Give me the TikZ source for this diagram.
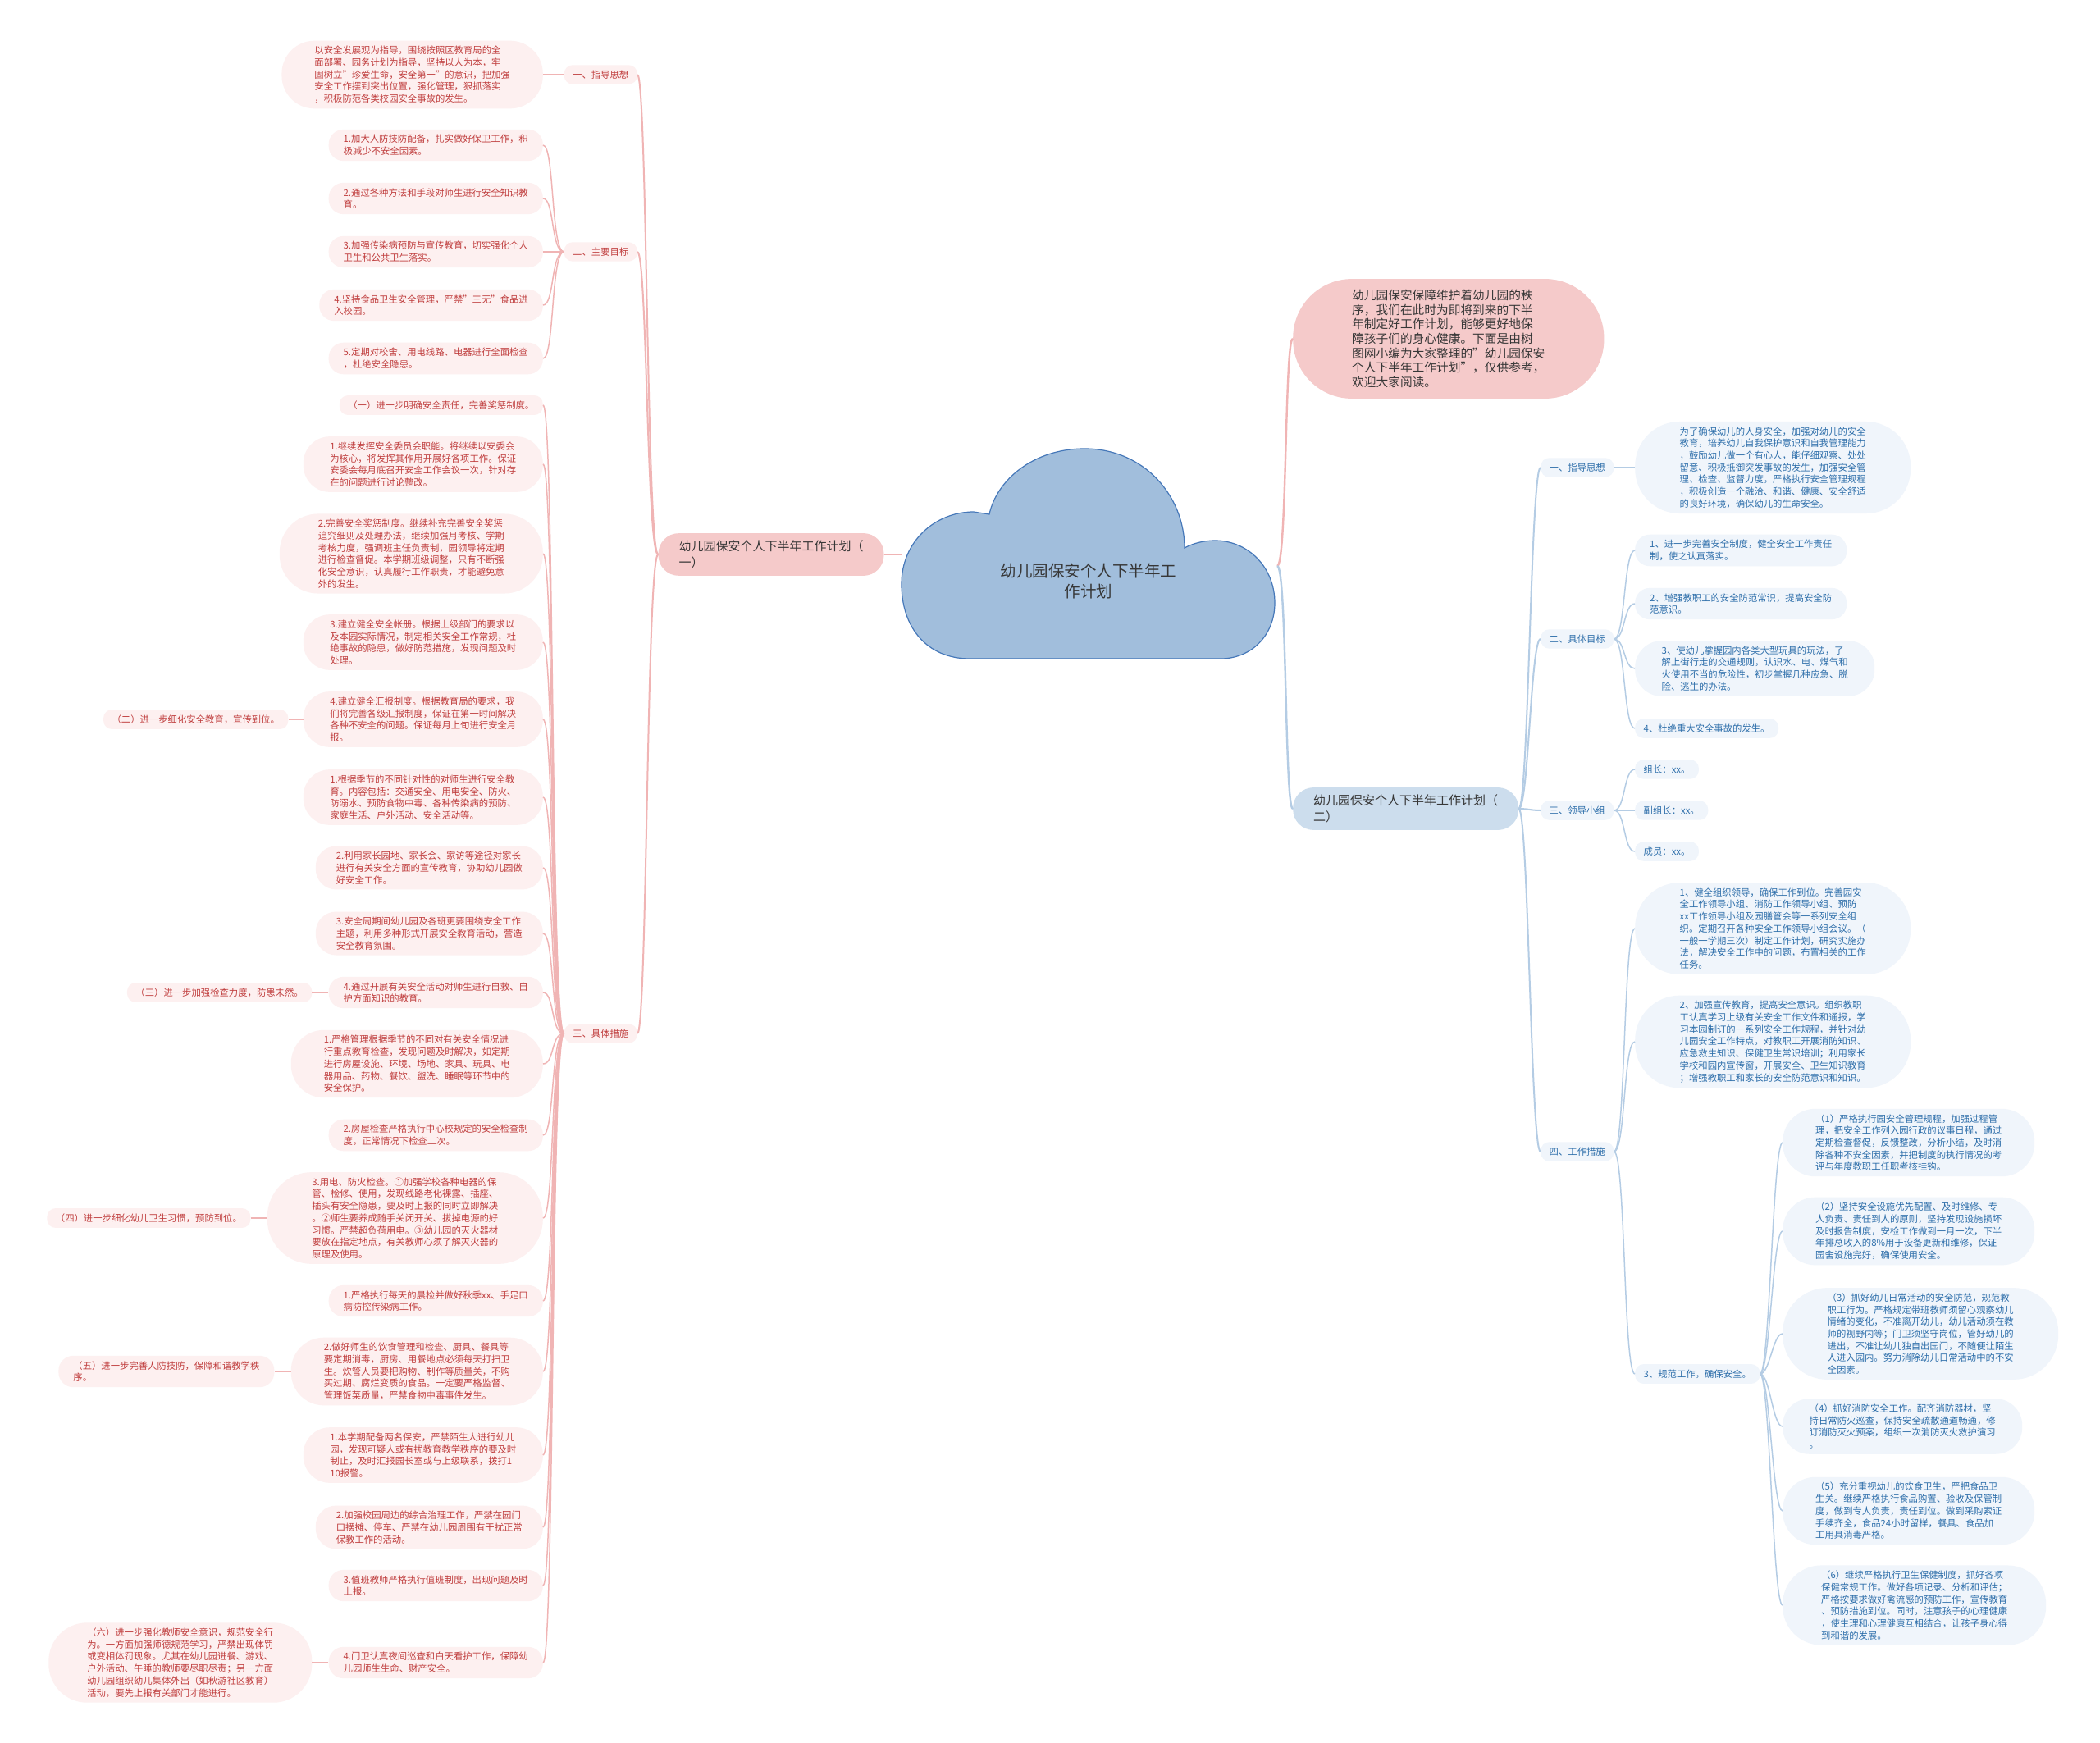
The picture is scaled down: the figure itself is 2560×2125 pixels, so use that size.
\documentclass[tikz,border=0pt]{standalone}
\usepackage{fontspec}
\setmainfont{Noto Sans CJK SC}
\usetikzlibrary{positioning}

\definecolor{rosefond}{RGB}{253,240,240}
\definecolor{bleufond}{RGB}{240,245,251}
\definecolor{rosemain}{RGB}{245,202,202}
\definecolor{bleumain}{RGB}{204,221,237}
\definecolor{roselien}{RGB}{240,180,180}
\definecolor{bleulien}{RGB}{180,204,228}
\definecolor{rougetexte}{RGB}{192,62,62}
\definecolor{bleutexte}{RGB}{45,110,170}
\definecolor{gristexte}{RGB}{55,55,55}
\definecolor{nuage}{RGB}{161,190,220}
\definecolor{nuagebord}{RGB}{70,120,185}

\begin{document}
\begin{tikzpicture}[x=1pt,y=-1pt,
    arrondi/.style={inner xsep=#1, rounded corners=#1},
    feuilleG/.style={rectangle, fill=rosefond, text=rougetexte,
        font=\fontsize{11.35}{14.7}\selectfont, align=left,
        inner ysep=6.5pt, anchor=east, arrondi=#1},
    feuilleG/.default=10.5pt,
    feuilleD/.style={feuilleG=#1, fill=bleufond, text=bleutexte, anchor=west},
    feuilleD/.default=10.5pt,
    branche/.style={rectangle, text=gristexte,
        font=\fontsize{15}{19.5}\selectfont, align=left,
        inner ysep=9pt, arrondi=25pt},
    lienG/.style={draw=roselien, line width=1.5pt},
    lienD/.style={draw=bleulien, line width=1.5pt},
    lienM/.style={line width=2.4pt}]
    \useasboundingbox (0,0) rectangle (2560,2125);
    \fill[white] (0,0) rectangle (2560,2125);

    % Nuage central
    \filldraw[fill=nuage, draw=nuagebord, line width=1.2pt]
        (1182,803) .. controls (1130,803) and (1099,765) .. (1099,712)
        .. controls (1099,660) and (1140,624) .. (1187,624) -- (1206,627)
        .. controls (1215,585) and (1260,547) .. (1322,547)
        .. controls (1395,547) and (1444,605) .. (1444,668)
        .. controls (1455,662) and (1468,659) .. (1481,659)
        .. controls (1522,659) and (1554,692) .. (1554,735)
        .. controls (1554,775) and (1525,803) .. (1488,803) -- cycle;
    \node[font=\fontsize{19.5}{25}\selectfont, text=gristexte, align=center]
        (racine) at (1327,709) {幼儿园保安个人下半年工\\作计划};
    \coordinate (nuageG) at (1100,676);
    \coordinate (nuageD) at (1557,690);

    % Branches principales
    \node[branche, fill=rosemain] (gauche) at (940,676)
        {幼儿园保安个人下半年工作计划（\\一）};
    \node[branche, fill=bleumain, anchor=west] (droite) at (1576,986)
        {幼儿园保安个人下半年工作计划（\\二）};
    \node[branche, fill=rosemain, anchor=west, inner ysep=13pt, arrondi=72pt,
        font=\fontsize{14.7}{17.7}\selectfont] (intro) at (1576,413)
        {幼儿园保安保障维护着幼儿园的秩\\序，我们在此时为即将到来的下半\\年制定好工作计划，能够更好地保\\障孩子们的身心健康。下面是由树\\图网小编为大家整理的"幼儿园保安\\个人下半年工作计划"，仅供参考，\\欢迎大家阅读。};

    % Côté gauche : titres
    \node[feuilleG] (G1) at (777,91) {一、指导思想};
    \node[feuilleG] (G2) at (777,307) {二、主要目标};
    \node[feuilleG] (G3) at (777,1260) {三、具体措施};

    % Côté gauche : feuilles
    \node[feuilleG=40pt] (la) at (662,91) {以安全发展观为指导，围绕按照区教育局的全\\面部署、园务计划为指导，坚持以人为本，牢\\固树立"珍爱生命，安全第一"的意识，把加强\\安全工作摆到突出位置，强化管理，狠抓落实\\，积极防范各类校园安全事故的发生。};
    \node[feuilleG=18pt] (lb1) at (662,177) {1.加大人防技防配备，扎实做好保卫工作，积\\极减少不安全因素。};
    \node[feuilleG=18pt] (lb2) at (662,242) {2.通过各种方法和手段对师生进行安全知识教\\育。};
    \node[feuilleG=18pt] (lb3) at (662,307) {3.加强传染病预防与宣传教育，切实强化个人\\卫生和公共卫生落实。};
    \node[feuilleG=18pt] (lb4) at (662,372) {4.坚持食品卫生安全管理，严禁"三无"食品进\\入校园。};
    \node[feuilleG=18pt] (lb5) at (662,437) {5.定期对校舍、用电线路、电器进行全面检查\\，杜绝安全隐患。};
    \node[feuilleG] (lc0) at (662,494) {（一）进一步明确安全责任，完善奖惩制度。};
    \node[feuilleG=32.5pt] (lc1) at (662,566) {1.继续发挥安全委员会职能。将继续以安委会\\为核心，将发挥其作用开展好各项工作。保证\\安委会每月底召开安全工作会议一次，针对存\\在的问题进行讨论整改。};
    \node[feuilleG=47pt] (lc2) at (662,675) {2.完善安全奖惩制度。继续补充完善安全奖惩\\追究细则及处理办法，继续加强月考核、学期\\考核力度，强调班主任负责制，园领导将定期\\进行检查督促。本学期班级调整，只有不断强\\化安全意识，认真履行工作职责，才能避免意\\外的发生。};
    \node[feuilleG=32.5pt] (lc3) at (662,783) {3.建立健全安全帐册。根据上级部门的要求以\\及本园实际情况，制定相关安全工作常规，杜\\绝事故的隐患，做好防范措施，发现问题及时\\处理。};
    \node[feuilleG=32.5pt] (lc4) at (662,877) {4.建立健全汇报制度。根据教育局的要求，我\\们将完善各级汇报制度，保证在第一时间解决\\各种不安全的问题。保证每月上旬进行安全月\\报。};
    \node[feuilleG=32.5pt] (ld1) at (662,972) {1.根据季节的不同针对性的对师生进行安全教\\育。内容包括：交通安全、用电安全、防火、\\防溺水、预防食物中毒、各种传染病的预防、\\家庭生活、户外活动、安全活动等。};
    \node[feuilleG=25pt] (ld2) at (662,1058) {2.利用家长园地、家长会、家访等途径对家长\\进行有关安全方面的宣传教育，协助幼儿园做\\好安全工作。};
    \node[feuilleG=25pt] (ld3) at (662,1138) {3.安全周期间幼儿园及各班更要围绕安全工作\\主题，利用多种形式开展安全教育活动，营造\\安全教育氛围。};
    \node[feuilleG=18pt] (ld4) at (662,1210) {4.通过开展有关安全活动对师生进行自救、自\\护方面知识的教育。};
    \node[feuilleG=40pt] (le1) at (662,1297) {1.严格管理根据季节的不同对有关安全情况进\\行重点教育检查，发现问题及时解决，如定期\\进行房屋设施、环境、场地、家具、玩具、电\\器用品、药物、餐饮、盥洗、睡眠等环节中的\\安全保护。};
    \node[feuilleG=18pt] (le2) at (662,1384) {2.房屋检查严格执行中心校规定的安全检查制\\度，正常情况下检查二次。};
    \node[feuilleG=54.5pt] (le3) at (662,1485) {3.用电、防火检查。①加强学校各种电器的保\\管、检修、使用，发现线路老化裸露、插座、\\插头有安全隐患，要及时上报的同时立即解决\\。②师生要养成随手关闭开关、拔掉电源的好\\习惯。严禁超负荷用电。③幼儿园的灭火器材\\要放在指定地点，有关教师心须了解灭火器的\\原理及使用。};
    \node[feuilleG=18pt] (lf1) at (662,1586) {1.严格执行每天的晨检并做好秋季xx、手足口\\病防控传染病工作。};
    \node[feuilleG=40pt] (lf2) at (662,1672) {2.做好师生的饮食管理和检查、厨具、餐具等\\要定期消毒，厨房、用餐地点必须每天打扫卫\\生。炊管人员要把购物、制作等质量关，不购\\买过期、腐烂变质的食品。一定要严格监督、\\管理饭菜质量，严禁食物中毒事件发生。};
    \node[feuilleG=32.5pt] (lg1) at (662,1774) {1.本学期配备两名保安，严禁陌生人进行幼儿\\园，发现可疑人或有扰教育教学秩序的要及时\\制止，及时汇报园长室或与上级联系，拨打1\\10报警。};
    \node[feuilleG=25pt] (lg2) at (662,1862) {2.加强校园周边的综合治理工作，严禁在园门\\口摆摊、停车、严禁在幼儿园周围有干扰正常\\保教工作的活动。};
    \node[feuilleG=18pt] (lg3) at (662,1933) {3.值班教师严格执行值班制度，出现问题及时\\上报。};
    \node[feuilleG=18pt] (lg4) at (662,2027) {4.门卫认真夜间巡查和白天看护工作，保障幼\\儿园师生生命、财产安全。};

    % Sous-points à l'extrême gauche
    \node[feuilleG, left=18pt of lc4] (o2) {（二）进一步细化安全教育，宣传到位。};
    \node[feuilleG, left=20pt of ld4] (o3) {（三）进一步加强检查力度，防患未然。};
    \node[feuilleG, left=20pt of le3] (o4) {（四）进一步细化幼儿卫生习惯，预防到位。};
    \node[feuilleG=18pt, left=20pt of lf2] (o5) {（五）进一步完善人防技防，保障和谐教学秩\\序。};
    \node[feuilleG=47pt, left=20pt of lg4] (o6) {（六）进一步强化教师安全意识，规范安全行\\为。一方面加强师德规范学习，严禁出现体罚\\或变相体罚现象。尤其在幼儿园进餐、游戏、\\户外活动、午睡的教师要尽职尽责；另一方面\\幼儿园组织幼儿集体外出（如秋游社区教育）\\活动，要先上报有关部门才能进行。};

    % Côté droit : titres
    \node[feuilleD] (D1) at (1878,570) {一、指导思想};
    \node[feuilleD] (D2) at (1878,779) {二、具体目标};
    \node[feuilleD] (D3) at (1878,988) {三、领导小组};
    \node[feuilleD] (D4) at (1878,1404) {四、工作措施};

    % Côté droit : feuilles
    \node[feuilleD=54.5pt] (ra) at (1993,570) {为了确保幼儿的人身安全，加强对幼儿的安全\\教育，培养幼儿自我保护意识和自我管理能力\\，鼓励幼儿做一个有心人，能仔细观察、处处\\留意、积极抵御突发事故的发生，加强安全管\\理、检查、监督力度，严格执行安全管理规程\\，积极创造一个融洽、和谐、健康、安全舒适\\的良好环境，确保幼儿的生命安全。};
    \node[feuilleD=18pt] (rb1) at (1993,671) {1、进一步完善安全制度，健全安全工作责任\\制，使之认真落实。};
    \node[feuilleD=18pt] (rb2) at (1993,736) {2、增强教职工的安全防范常识，提高安全防\\范意识。};
    \node[feuilleD=32.5pt] (rb3) at (1993,815) {3、使幼儿掌握园内各类大型玩具的玩法，了\\解上街行走的交通规则，认识水、电、煤气和\\火使用不当的危险性，初步掌握几种应急、脱\\险、逃生的办法。};
    \node[feuilleD] (rb4) at (1993,888) {4、杜绝重大安全事故的发生。};
    \node[feuilleD] (rc1) at (1993,938) {组长：xx。};
    \node[feuilleD] (rc2) at (1993,988) {副组长：xx。};
    \node[feuilleD] (rc3) at (1993,1038) {成员：xx。};
    \node[feuilleD=54.5pt] (rw1) at (1993,1132) {1、健全组织领导，确保工作到位。完善园安\\全工作领导小组、消防工作领导小组、预防\\xx工作领导小组及园膳管会等一系列安全组\\织。定期召开各种安全工作领导小组会议。（\\一般一学期三次）制定工作计划，研究实施办\\法，解决安全工作中的问题，布置相关的工作\\任务。};
    \node[feuilleD=54.5pt] (rw2) at (1993,1270) {2、加强宣传教育，提高安全意识。组织教职\\工认真学习上级有关安全工作文件和通报，学\\习本园制订的一系列安全工作规程，并针对幼\\儿园安全工作特点，对教职工开展消防知识、\\应急救生知识、保健卫生常识培训；利用家长\\学校和园内宣传窗，开展安全、卫生知识教育\\；增强教职工和家长的安全防范意识和知识。};
    \node[feuilleD] (rw3) at (1993,1675) {3、规范工作，确保安全。};
    \node[feuilleD=40pt] (rp1) at (2173,1393) {（1）严格执行园安全管理规程，加强过程管\\理，把安全工作列入园行政的议事日程，通过\\定期检查督促，反馈整改，分析小结，及时消\\除各种不安全因素，并把制度的执行情况的考\\评与年度教职工任职考核挂钩。};
    \node[feuilleD=40pt] (rp2) at (2173,1501) {（2）坚持安全设施优先配置、及时维修、专\\人负责、责任到人的原则，坚持发现设施损坏\\及时报告制度，安检工作做到一月一次，下半\\年排总收入的8\%用于设备更新和维修，保证\\园舍设施完好，确保使用安全。};
    \node[feuilleD=54.5pt] (rp3) at (2173,1626) {（3）抓好幼儿日常活动的安全防范，规范教\\职工行为。严格规定带班教师须留心观察幼儿\\情绪的变化，不准离开幼儿，幼儿活动须在教\\师的视野内等；门卫须坚守岗位，管好幼儿的\\进出，不准让幼儿独自出园门，不随便让陌生\\人进入园内。努力消除幼儿日常活动中的不安\\全因素。};
    \node[feuilleD=32.5pt] (rp4) at (2173,1739) {（4）抓好消防安全工作。配齐消防器材，坚\\持日常防火巡查，保持安全疏散通道畅通，修\\订消防灭火预案，组织一次消防灭火救护演习\\。};
    \node[feuilleD=40pt] (rp5) at (2173,1842) {（5）充分重视幼儿的饮食卫生，严把食品卫\\生关。继续严格执行食品购置、验收及保管制\\度，做到专人负责，责任到位。做到采购索证\\手续齐全，食品24小时留样，餐具、食品加\\工用具消毒严格。};
    \node[feuilleD=47pt] (rp6) at (2173,1957) {（6）继续严格执行卫生保健制度，抓好各项\\保健常规工作。做好各项记录、分析和评估；\\严格按要求做好禽流感的预防工作，宣传教育\\、预防措施到位。同时，注意孩子的心理健康\\，使生理和心理健康互相结合，让孩子身心得\\到和谐的发展。};

    % Liens gauche
    \draw[lienG, lienM] (gauche.east) -- (nuageG);
    \foreach \t in {G1,G2,G3}
        \draw[lienG, line width=2pt] (gauche.west) .. controls +(-14,0) and +(12,0) .. (\t.east);
    \draw[lienG] (G1.west) -- (la.east);
    \foreach \f in {lb1,lb2,lb3,lb4,lb5}
        \draw[lienG] (G2.west) .. controls +(-16,0) and +(14,0) .. (\f.east);
    \foreach \f in {lc0,lc1,lc2,lc3,lc4,ld1,ld2,ld3,ld4,le1,le2,le3,lf1,lf2,lg1,lg2,lg3,lg4}
        \draw[lienG] (G3.west) .. controls +(-16,0) and +(14,0) .. (\f.east);
    \draw[lienG] (o2.east) -- (lc4.west);
    \draw[lienG] (o3.east) -- (ld4.west);
    \draw[lienG] (o4.east) -- (le3.west);
    \draw[lienG] (o5.east) -- (lf2.west);
    \draw[lienG] (o6.east) -- (lg4.west);

    % Liens droite
    \draw[lienG, lienM] (nuageD) .. controls +(12,0) and +(-10,0) .. (intro.west);
    \draw[lienD, lienM] (nuageD) .. controls +(12,0) and +(-10,0) .. (droite.west);
    \foreach \t in {D1,D2,D3,D4}
        \draw[lienD, line width=2pt] (droite.east) .. controls +(12,0) and +(-12,0) .. (\t.west);
    \draw[lienD] (D1.east) -- (ra.west);
    \foreach \f in {rb1,rb2,rb3,rb4}
        \draw[lienD] (D2.east) .. controls +(14,0) and +(-14,0) .. (\f.west);
    \foreach \f in {rc1,rc2,rc3}
        \draw[lienD] (D3.east) .. controls +(14,0) and +(-14,0) .. (\f.west);
    \foreach \f in {rw1,rw2,rw3}
        \draw[lienD] (D4.east) .. controls +(14,0) and +(-14,0) .. (\f.west);
    \foreach \f in {rp1,rp2,rp3,rp4,rp5,rp6}
        \draw[lienD] (rw3.east) .. controls +(12,0) and +(-12,0) .. (\f.west);
\end{tikzpicture}
\end{document}
